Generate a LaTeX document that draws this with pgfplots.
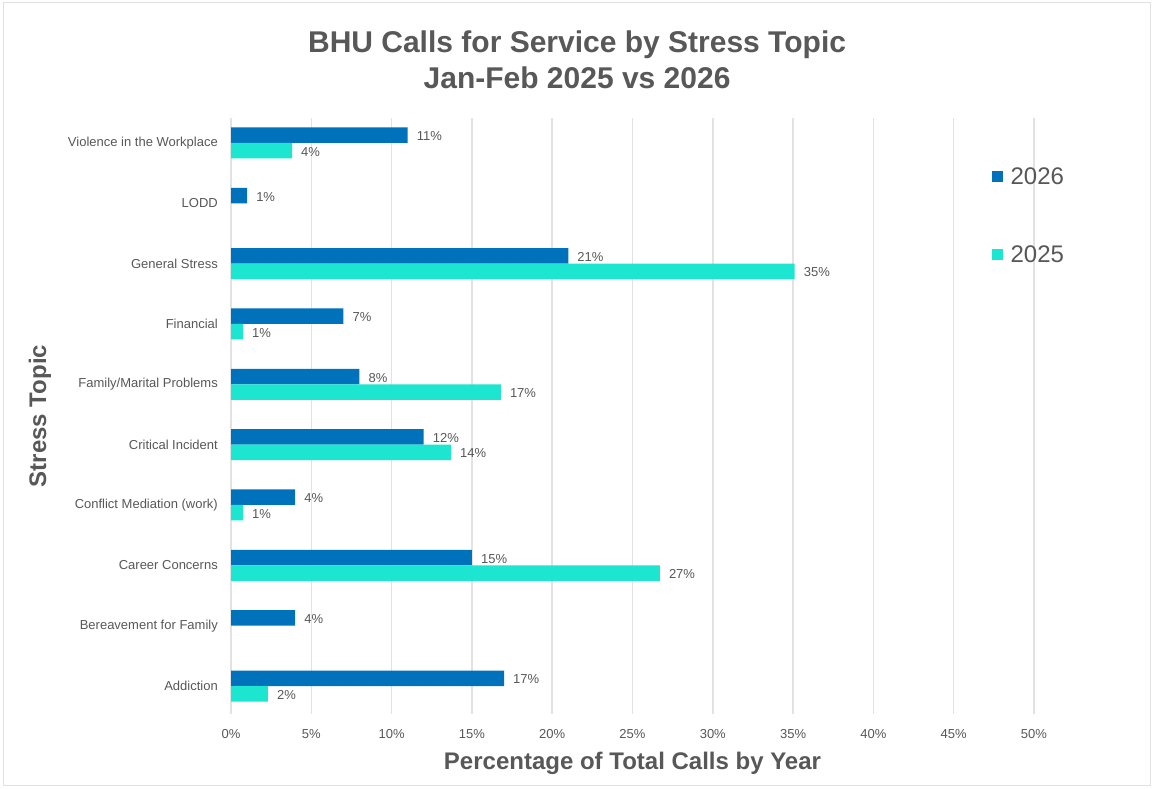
\documentclass[border=0pt]{standalone}
\usepackage{fontspec}
\setmainfont{Liberation Sans}
\usepackage{pgfplots}
\pgfplotsset{compat=1.18}
\definecolor{c26}{RGB}{0,114,188}
\definecolor{c25}{RGB}{28,230,208}
\definecolor{txt}{RGB}{88,88,88}
\definecolor{grd}{RGB}{226,226,226}

\begin{document}
\begin{tikzpicture}[x=1pt,y=1pt]
\useasboundingbox (0,0) rectangle (1153,788);
\fill[white] (0,0) rectangle (1153,788);
\draw[grd, line width=1pt] (3,3) rectangle (1150,785);
\begin{axis}[
    at={(231pt,74pt)}, anchor=south west,
    scale only axis, width=803pt, height=596pt,
    xbar, bar width=15.5pt,
    xmin=0, xmax=50, ymin=-0.464, ymax=9.414,
    xtick={0,5,...,50},
    xticklabel={\pgfmathprintnumber{\tick}\%},
    ytick={0,...,9},
    yticklabels={Addiction, Bereavement for Family, Career Concerns,
      Conflict Mediation (work), Critical Incident, Family/Marital Problems,
      Financial, General Stress, LODD, Violence in the Workplace},
    axis line style={draw=none},
    major tick length=0pt,
    xmajorgrids, grid style={grd, line width=1.5pt},
    /pgf/number format/assume math mode=true,
    tick label style={font=\fontsize{13}{15}\selectfont, color=txt, inner sep=0pt},
    y tick label style={xshift=-13pt},
    x tick label style={yshift=-15pt},
    title={BHU Calls for Service by Stress Topic\\Jan-Feb 2025 vs 2026},
    title style={at={(axis description cs:0.431,1.088)}, anchor=center, align=center,
      font=\bfseries\fontsize{30}{36}\selectfont, color=txt},
    xlabel={Percentage of Total Calls by Year},
    xlabel style={at={(axis description cs:0.5,0)}, anchor=center, yshift=-49pt,
      font=\bfseries\fontsize{24}{28}\selectfont, color=txt},
    ylabel={Stress Topic},
    ylabel style={at={(axis description cs:-0.238,0.5)}, anchor=center,
      font=\bfseries\fontsize{24}{28}\selectfont, color=txt},
    point meta=explicit symbolic,
    nodes near coords,
    every node near coord/.append style={font=\fontsize{13}{15}\selectfont, color=txt,
      inner sep=0pt, anchor=west, xshift=9pt, yshift=-1pt},
    legend style={at={(axis description cs:0.947,0.921)}, anchor=north west,
      draw=none, fill=none, row sep=56pt, font=\fontsize{24}{28}\selectfont,
      text=txt, inner sep=0pt,
      /tikz/every odd column/.append style={column sep=6pt}},
    legend cell align=left,
    legend image code/.code={\fill[#1] (0pt,-5.5pt) rectangle (11pt,5.5pt);},
]
\addplot[fill=c26, draw=none, bar shift=7.75pt] coordinates {
  (17.0,0) [17\%]
  (4.0,1)  [4\%]
  (15.0,2) [15\%]
  (4.0,3)  [4\%]
  (12.0,4) [12\%]
  (8.0,5)  [8\%]
  (7.0,6)  [7\%]
  (21.0,7) [21\%]
  (1.0,8)  [1\%]
  (11.0,9) [11\%]
};
\addplot[fill=c25, draw=none, bar shift=-7.75pt] coordinates {
  (2.3,0)  [2\%]
  (26.7,2) [27\%]
  (0.75,3) [1\%]
  (13.7,4) [14\%]
  (16.8,5) [17\%]
  (0.75,6) [1\%]
  (35.1,7) [35\%]
  (3.8,9)  [4\%]
};
\legend{2026,2025}
\end{axis}
\end{tikzpicture}
\end{document}
